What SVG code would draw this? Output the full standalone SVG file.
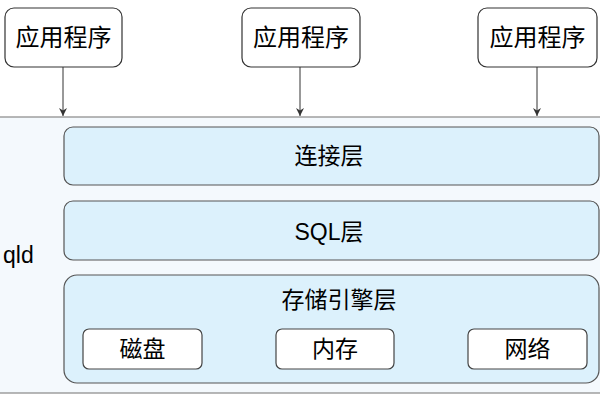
<svg xmlns="http://www.w3.org/2000/svg" width="600" height="400" viewBox="0 0 600 400">
<defs>
<style>
.app{fill:#ffffff;stroke:#333333;stroke-width:1.2}
.layer{fill:#dcf1fc;stroke:#555555;stroke-width:1.2}
.inner{fill:#ffffff;stroke:#444444;stroke-width:1.2}
.t{font-family:"Liberation Sans","Noto Sans CJK SC",sans-serif;fill:#000000;text-anchor:middle;dominant-baseline:central}
.edge{stroke:#333333;stroke-width:1;fill:none}
</style>
<marker id="arr" viewBox="0 0 10 10" refX="10" refY="5" markerWidth="8" markerHeight="8" markerUnits="userSpaceOnUse" orient="auto">
<path d="M0,0 L10,5 L0,10 L3,5 Z" fill="#333333"/>
</marker>
</defs>
<rect width="600" height="400" fill="#ffffff"/>
<g id="mysqld">
<rect x="-10" y="117" width="620" height="276" fill="#f4f9fd" stroke="#888888" stroke-width="1.2"/>
<text x="3" y="255" class="t" style="font-size:23px;text-anchor:start">qld</text>
</g>
<g id="app1"><rect class="app" x="5" y="8" width="117" height="59" rx="9"/><text class="t" x="63.5" y="37.5" style="font-size:24px">应用程序</text></g>
<g id="app2"><rect class="app" x="242" y="8" width="118" height="59" rx="9"/><text class="t" x="301" y="37.5" style="font-size:24px">应用程序</text></g>
<g id="app3"><rect class="app" x="478" y="8" width="119" height="59" rx="9"/><text class="t" x="537.5" y="37.5" style="font-size:24px">应用程序</text></g>
<g id="connectors">
<line class="edge" x1="63" y1="67" x2="63" y2="116" marker-end="url(#arr)"/>
<line class="edge" x1="300" y1="67" x2="300" y2="116" marker-end="url(#arr)"/>
<line class="edge" x1="537" y1="67" x2="537" y2="116" marker-end="url(#arr)"/>
</g>
<g id="conn-layer"><rect class="layer" x="64" y="127" width="535" height="58" rx="9"/><text class="t" x="329" y="156" style="font-size:23px">连接层</text></g>
<g id="sql-layer"><rect class="layer" x="64" y="201" width="535" height="59" rx="9"/><text class="t" x="329" y="232" style="font-size:23px">SQL层</text></g>
<g id="storage-layer"><rect class="layer" x="64" y="275" width="535" height="108" rx="13"/><text class="t" x="339" y="300" style="font-size:23px">存储引擎层</text></g>
<g id="disk"><rect class="inner" x="83" y="329" width="119" height="40" rx="6"/><text class="t" x="142.5" y="349" style="font-size:23px">磁盘</text></g>
<g id="memory"><rect class="inner" x="276" y="329" width="118" height="40" rx="6"/><text class="t" x="335" y="349" style="font-size:23px">内存</text></g>
<g id="network"><rect class="inner" x="468" y="329" width="119" height="40" rx="6"/><text class="t" x="527.5" y="349" style="font-size:23px">网络</text></g>
</svg>
